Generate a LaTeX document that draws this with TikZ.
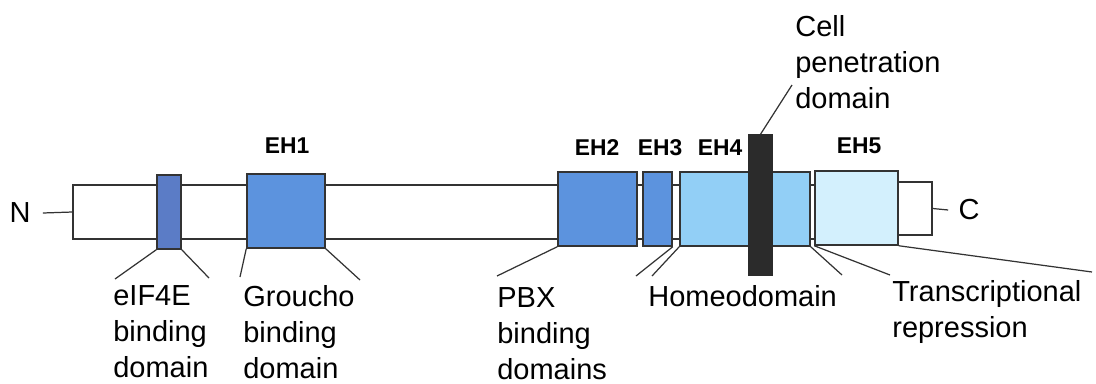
\documentclass[tikz,border=0pt]{standalone}
\usepackage{fontspec}
\setmainfont{Liberation Sans}
\usetikzlibrary{fit}
\definecolor{eifblue}{HTML}{5B7CC6}
\definecolor{ehblue}{HTML}{5C93DE}
\definecolor{hdblue}{HTML}{92CFF6}
\definecolor{rpblue}{HTML}{D3F0FD}
\definecolor{cpdark}{HTML}{2B2B2B}
\tikzset{
  dom/.style={draw=black!80, line width=0.85pt, inner sep=0pt},
  lbl/.style={inner sep=0pt, align=left, anchor=north west, font=\fontsize{16.5}{20.5}\selectfont},
  ehlbl/.style={inner sep=0pt, font=\bfseries\fontsize{13}{15}\selectfont},
  leader/.style={draw=black!80, line width=0.7pt}
}
\begin{document}
\begin{tikzpicture}[x=0.02cm, y=-0.02cm]
    \useasboundingbox (0,0) rectangle (1096,383);
    \node[dom, fit={(73,185) (815,239)}] (bar) {};
    \node[dom, fit={(898,182) (932,235)}] (cend) {};
    \node[dom, fill=eifblue, fit={(157,175) (181,249)}] (eif) {};
    \node[dom, fill=ehblue, fit={(247,174) (325,248)}] (eh1) {};
    \node[dom, fill=ehblue, fit={(558,172) (637,246)}] (eh2) {};
    \node[dom, fill=ehblue, fit={(643,172) (672,246)}] (eh3) {};
    \node[dom, fill=hdblue, fit={(680,172) (810,246)}] (eh4) {};
    \node[dom, fill=rpblue, fit={(815,171) (898,245)}] (eh5) {};
    \node[dom, draw=cpdark, fill=cpdark, fit={(749,135) (772,275)}] (cpd) {};
    \node[ehlbl] (t1) at (287,146) {EH1};
    \node[ehlbl] (t2) at (597,148) {EH2};
    \node[ehlbl] (t3) at (660,148) {EH3};
    \node[ehlbl] (t4) at (720,148) {EH4};
    \node[ehlbl] (t5) at (859,146) {EH5};
    \node[lbl, anchor=center] (nlab) at (20,213) {N};
    \node[lbl, anchor=center] (clab) at (969,210) {C};
    \node[lbl] (lcell) at (795,15) {Cell\\penetration\\domain};
    \node[lbl] (leif) at (113,285) {eIF4E\\binding\\domain};
    \node[lbl] (lgro) at (243,285) {Groucho\\binding\\domain};
    \node[lbl] (lpbx) at (497,287) {PBX\\binding\\domains};
    \node[lbl] (lhd) at (648,285) {Homeodomain};
    \node[lbl] (lrep) at (892,280) {Transcriptional\\repression};
    \coordinate (e1) at (115,279); \coordinate (e2) at (209,278);
    \coordinate (g1) at (240,277); \coordinate (g2) at (360,280);
    \coordinate (p1) at (497,276); \coordinate (p2) at (636,276);
    \coordinate (h1) at (652,276); \coordinate (h2) at (842,275);
    \coordinate (r1) at (890,275); \coordinate (r2) at (1092,272);
    \coordinate (c1) at (792,85);
    \draw[leader] ([xshift=0.24cm]nlab.east) -- (bar.west);
    \draw[leader] (cend.east) -- ([xshift=-0.2cm]clab.west);
    \draw[leader] (eif.south west) -- (e1); \draw[leader] (eif.south east) -- (e2);
    \draw[leader] (eh1.south west) -- (g1); \draw[leader] (eh1.south east) -- (g2);
    \draw[leader] (eh2.south west) -- (p1); \draw[leader] (eh3.south east) -- (p2);
    \draw[leader] (eh4.south west) -- (h1); \draw[leader] (eh4.south east) -- (h2);
    \draw[leader] (eh5.south west) -- (r1); \draw[leader] (eh5.south east) -- (r2);
    \draw[leader] (cpd.north) -- (c1);
  \end{tikzpicture}
\end{document}
